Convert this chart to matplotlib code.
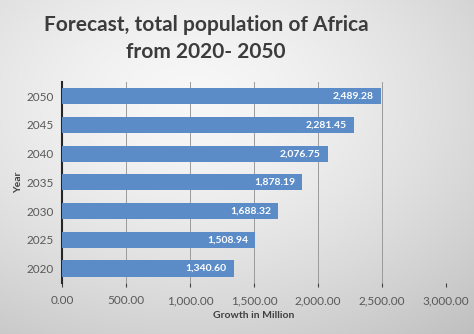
import matplotlib
matplotlib.use('Agg')
import matplotlib.pyplot as plt
import numpy as np

years = ['2020', '2025', '2030', '2035', '2040', '2045', '2050']
population = [1340.60, 1508.94, 1688.32, 1878.19, 2076.75, 2281.45, 2489.28]
x_ticks = [0, 500, 1000, 1500, 2000, 2500, 3000]

plt.rcParams['font.family'] = ['Lato', 'DejaVu Sans']


def draw_background(fig):
    # soft grey radial gradient like the office chart area
    bg = fig.add_axes([0, 0, 1, 1], zorder=-10)
    h, w = 334, 474
    yy, xx = np.mgrid[0:h, 0:w]
    r = np.sqrt(((xx - 0.40 * w) / w) ** 2 + ((yy - 0.30 * h) / h) ** 2)
    r = r / r.max()
    shade = 0.97 - 0.22 * r ** 1.5
    bg.imshow(np.dstack([shade] * 3), aspect='auto', extent=[0, 1, 0, 1])
    bg.axis('off')


def main():
    fig = plt.figure(figsize=(4.74, 3.34), dpi=100)
    draw_background(fig)

    ax = fig.add_axes([0.131, 0.153, 0.810, 0.602])
    ax.patch.set_alpha(0)

    pos = np.arange(len(years))
    bars = ax.barh(pos, population, height=0.56, color='#5b8cc8', zorder=3)

    for b, v in zip(bars, population):
        ax.text(b.get_width() - 55, b.get_y() + b.get_height() / 2,
                f'{v:,.2f}', ha='right', va='center', color='white',
                fontsize=7.5, fontweight='bold', zorder=4)

    ax.set_xlim(0, 3000)
    ax.set_ylim(-0.5, len(years) - 0.5)
    ax.set_yticks(pos)
    ax.set_yticklabels(years)
    ax.set_xticks(x_ticks)
    ax.set_xticklabels([f'{t:,.2f}' for t in x_ticks])

    ax.grid(axis='x', color='#9a9a9a', linewidth=0.7, zorder=0)
    for s in ['top', 'right', 'bottom']:
        ax.spines[s].set_visible(False)
    ax.spines['left'].set_color('#262626')
    ax.spines['left'].set_linewidth(1.5)

    ax.tick_params(axis='y', length=0, pad=6, labelsize=8.5, labelcolor='#595959')
    ax.tick_params(axis='x', length=3, width=0.8, color='#404040', pad=6,
                   labelsize=8.5, labelcolor='#595959')

    ax.set_xlabel('Growth in Million', fontsize=7.5, fontweight='bold',
                  color='#404040', labelpad=3)
    ax.set_ylabel('Year', fontsize=7.5, fontweight='bold', color='#404040',
                  labelpad=2)

    fig.text(0.435, 0.925, 'Forecast, total population of Africa',
             ha='center', va='center', fontsize=15, fontweight='bold',
             color='#3c3c3c')
    fig.text(0.435, 0.843, 'from 2020- 2050', ha='center', va='center',
             fontsize=15, fontweight='bold', color='#3c3c3c')

    fig.savefig('out.png', dpi=100)


if __name__ == '__main__':
    main()
